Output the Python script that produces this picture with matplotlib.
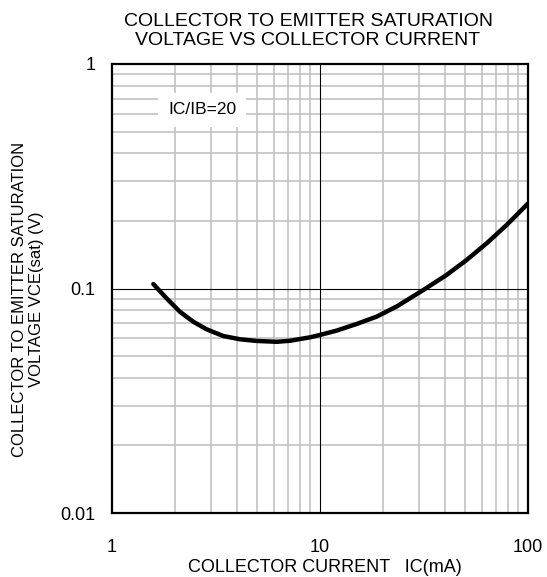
import numpy as np
import matplotlib.pyplot as plt
from matplotlib.ticker import FixedLocator, NullFormatter

# curve (IC in mA, VCE(sat) in V)
ic_ma = [1.58, 1.83, 2.12, 2.46, 2.85, 3.43, 4.13, 4.96, 6.19, 7.17, 8.95, 10.0,
         12.0, 15.0, 18.7, 23.4, 31.4, 40.6, 50.7, 63.3, 79.0, 100]
vce_sat = [0.1047, 0.0904, 0.0788, 0.0711, 0.0658, 0.0614, 0.0594, 0.0584, 0.0579,
           0.0585, 0.0606, 0.0621, 0.0649, 0.0695, 0.0749, 0.0832, 0.0985, 0.1149,
           0.134, 0.159, 0.1919, 0.239]

x_ticks = [1, 10, 100]
x_labels = ["1", "10", "100"]
y_ticks = [0.01, 0.1, 1]
y_labels = ["0.01", "0.1", "1"]

plt.rcParams['font.family'] = ['Liberation Sans', 'DejaVu Sans']

fig = plt.figure(figsize=(5.47, 5.77), dpi=100)
ax = fig.add_axes([112 / 547, 1 - 513 / 577, 416 / 547, 449 / 577])

ax.set_xscale('log')
ax.set_yscale('log')
ax.set_xlim(1, 100)
ax.set_ylim(0.01, 1)

# gray grid on every 2..9 line of each decade
minor_x = [m * d for d in [1, 10] for m in range(2, 10)]
minor_y = [m * d for d in [0.01, 0.1] for m in range(2, 10)]
for v in minor_x:
    ax.axvline(v, color='#c2c2c2', lw=1.2, zorder=1)
for v in minor_y:
    ax.axhline(v, color='#c2c2c2', lw=1.2, zorder=1)
ax.axvline(10, color='black', lw=0.8, zorder=2)
ax.axhline(0.1, color='black', lw=0.8, zorder=2)

ax.plot(ic_ma, vce_sat, color='black', lw=3.2, solid_capstyle='round', zorder=4)

ax.text(2.71, 0.624, "IC/IB=20", ha='center', va='center', fontsize=12.5,
        bbox=dict(facecolor='white', edgecolor='none', pad=7), zorder=3)

ax.xaxis.set_major_locator(FixedLocator(x_ticks))
ax.yaxis.set_major_locator(FixedLocator(y_ticks))
ax.xaxis.set_minor_formatter(NullFormatter())
ax.yaxis.set_minor_formatter(NullFormatter())
ax.set_xticklabels(x_labels)
ax.set_yticklabels(y_labels)
ax.tick_params(which='both', length=0, labelsize=13)
ax.tick_params(axis='x', pad=19)
ax.tick_params(axis='y', pad=12)

for s in ax.spines.values():
    s.set_linewidth(1.6)
    s.set_zorder(5)

fig.text(325 / 547, 1 - 567 / 577, "COLLECTOR CURRENT   IC(mA)", fontsize=13,
         ha='center', va='center')
fig.text(28 / 547, 1 - 299 / 577, "COLLECTOR TO EMITTER SATURATION\nVOLTAGE VCE(sat) (V)",
         fontsize=12, rotation=90, ha='center', va='center', linespacing=1.2)
fig.text(308 / 547, 1 - 31 / 577, "COLLECTOR TO EMITTER SATURATION\nVOLTAGE VS COLLECTOR CURRENT",
         fontsize=14, ha='center', va='center', linespacing=1.1)

fig.savefig("out.png", dpi=100)
